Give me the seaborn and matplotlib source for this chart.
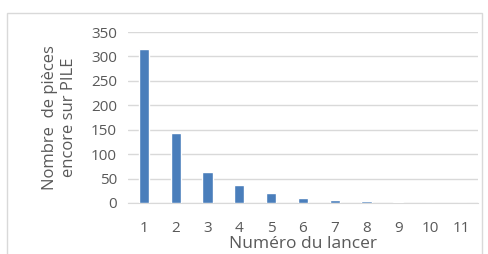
import matplotlib.pyplot as plt
import matplotlib.patches as patches
import seaborn as sns
import pandas as pd

# data
lancers = ["1", "2", "3", "4", "5", "6", "7", "8", "9", "10", "11"]
pieces = [315, 143, 64, 37, 21, 10, 7, 3, 1, 0, 0]

sns.set_style("white")
plt.rcParams['font.family'] = ['Open Sans', 'DejaVu Sans']

txt = "#595959"
df = pd.DataFrame({"lancer": lancers, "pieces": pieces})

fig = plt.figure(figsize=(4.89, 2.54), dpi=100)
ax = fig.add_axes([0.262, 0.201, 0.715, 0.673])

sns.barplot(data=df, x="lancer", y="pieces", color="#4a7ebb", width=0.32,
            saturation=1, ax=ax, zorder=3)

ax.set_ylim(0, 350)
ax.set_yticks(range(0, 351, 50))
ax.grid(axis="y", color="#d9d9d9", linewidth=1, zorder=0)
for s in ["top", "right", "left"]:
    ax.spines[s].set_visible(False)
ax.spines["bottom"].set_color("#d9d9d9")
ax.tick_params(axis="both", length=0, labelsize=11, colors=txt, pad=8)
ax.tick_params(axis="x", pad=13)

ax.set_xlabel("Numéro du lancer", fontsize=12.5, color=txt, labelpad=0)
ax.set_ylabel("Nombre  de pièces\nencore sur PILE", fontsize=12, color=txt,
              labelpad=10, linespacing=1.3)

# outer chart frame
frame = patches.Rectangle((7 / 489, -0.05), 475 / 489, 1 - 12.7 / 254 + 0.05,
                          transform=fig.transFigure, fill=False,
                          edgecolor="#d9d9d9", linewidth=1)
fig.patches.append(frame)

fig.savefig("out.png", dpi=100)
